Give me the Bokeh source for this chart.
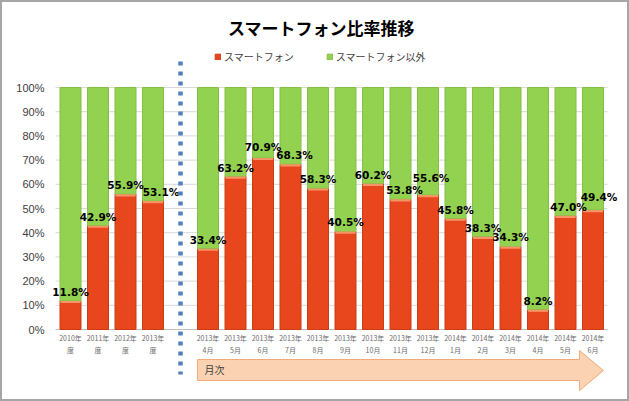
from bokeh.plotting import figure
from bokeh.models import Range1d, ColumnDataSource, Legend, LegendItem
from bokeh.core.properties import value
from bokeh.embed import file_html
from bokeh.resources import INLINE

# ---------------- data ----------------
title_text = "スマートフォン比率推移"
series_names = ["スマートフォン", "スマートフォン以外"]
year_labels = ["2010年\n度", "2011年\n度", "2012年\n度", "2013年\n度"]
year_values = [11.8, 42.9, 55.9, 53.1]
month_labels = ["2013年\n4月", "2013年\n5月", "2013年\n6月", "2013年\n7月", "2013年\n8月",
                "2013年\n9月", "2013年\n10月", "2013年\n11月", "2013年\n12月", "2014年\n1月",
                "2014年\n2月", "2014年\n3月", "2014年\n4月", "2014年\n5月", "2014年\n6月"]
month_values = [33.4, 63.2, 70.9, 68.3, 58.3, 40.5, 60.2, 53.8, 55.6, 45.8, 38.3, 34.3, 8.2, 47.0, 49.4]
y_ticks = [0, 10, 20, 30, 40, 50, 60, 70, 80, 90, 100]
arrow_label = "月次"
# label nudges (px) where the original chart shifted labels to avoid overlap
label_nudge = {3: 8, 7: 4, 11: 4, 12: 3, 17: 3, 18: 6}
label_lift = {6: 2, 12: 8, 18: 4}

# ---------------- layout helpers ----------------
W, H = 629, 401
X0, DX = 70.0, 27.5        # pixel centre of first slot, slot pitch
Y0, DY = 329.0, 2.42       # pixel of 0 %, pixels per %

def X(px):
    return (px - X0) / DX

def Y(py):
    return (Y0 - py) / DY

# slots: 4 yearly bars, one empty separator slot, then monthly bars
year_slots = list(range(len(year_labels)))
sep_slot = len(year_labels)
month_slots = [sep_slot + 1 + i for i in range(len(month_labels))]
slots = year_slots + month_slots
labels = year_labels + month_labels
values = year_values + month_values
pct_text = [f"{v:.1f}%" for v in values]
nudge = [label_nudge.get(i, 0) for i in range(len(values))]
lift = [-3 - label_lift.get(i, 0) for i in range(len(values))]

src = ColumnDataSource(dict(
    x=slots, v=values, rest=[100] * len(values), lab=labels, pct=pct_text,
    hl=[v - 0.9 for v in values], dx=nudge, dy=lift,
))

p = figure(width=W, height=H, output_backend="svg", toolbar_location=None,
           x_range=Range1d(X(0), X(W)), y_range=Range1d(Y(H), Y(0)),
           min_border=0, min_border_left=0, min_border_right=0,
           min_border_top=0, min_border_bottom=0)
p.xaxis.visible = False
p.yaxis.visible = False
p.grid.visible = False
p.background_fill_color = "white"
p.border_fill_color = "white"
p.outline_line_color = "#a6a6a6"
p.outline_line_width = 3

# gridlines + y tick labels
gx0, gx1 = X(55), X(607)
p.segment(x0=[gx0] * len(y_ticks), x1=[gx1] * len(y_ticks), y0=y_ticks, y1=y_ticks,
          line_color=["#bfbfbf"] + ["#d9d9d9"] * (len(y_ticks) - 1), line_width=1)
p.text(x=[X(44)] * len(y_ticks), y=y_ticks, text=[f"{t}%" for t in y_ticks],
       text_align="right", text_baseline="middle", text_font=value("Liberation Sans"),
       text_font_size="11px", text_color="#404040")

# bars
bw = 21 / DX
r_red = p.vbar(x="x", top="v", bottom=0, width=bw, source=src,
               fill_color="#e8461c", line_color="#c93d15", line_width=1)
r_green = p.vbar(x="x", bottom="v", top="rest", width=bw, source=src,
                 fill_color="#93d150", line_color="#84c044", line_width=1)
p.vbar(x="x", bottom="hl", top="v", width=bw * 0.96, source=src,
       fill_color="#f59466", line_color=None)

# value labels
p.text(x="x", y="v", text="pct", source=src, x_offset="dx", y_offset="dy",
       text_align="center", text_baseline="bottom",
       text_font=value("DejaVu Sans"), text_font_style="bold",
       text_font_size="10.5px", text_color="black")

# category labels
p.text(x="x", y=Y(332), text="lab", source=src, text_align="center", text_baseline="top",
       text_font=value("Noto Sans CJK JP"), text_font_size="7px", text_color="#6b6b6b",
       text_line_height=1.25)

# dotted separator
p.segment(x0=[sep_slot], x1=[sep_slot], y0=[Y(61)], y1=[Y(374)],
          line_color="#4f81bd", line_width=4.5, line_dash="4 6")

# arrow
ax = [197, 579, 579, 603, 579, 579, 197]
ay = [359, 359, 350, 370, 390, 380, 380]
p.patch(x=[X(a) for a in ax], y=[Y(b) for b in ay], fill_color="#fbd3b2",
        line_color="#f2aa78", line_width=1)
p.text(x=[X(204)], y=[Y(369)], text=[arrow_label], text_align="left",
       text_baseline="middle", text_font=value("Noto Sans CJK JP"),
       text_font_size="10px", text_color="#404040")

# title
p.text(x=[X(321)], y=[Y(27)], text=[title_text], text_align="center",
       text_baseline="middle", text_font=value("Noto Sans CJK JP"),
       text_font_style="bold", text_font_size="17px", text_color="black")

# legend
legend = Legend(items=[LegendItem(label=series_names[0], renderers=[r_red]),
                       LegendItem(label=series_names[1], renderers=[r_green])],
                orientation="horizontal", location=(214, 401 - 64),
                padding=0, margin=0, spacing=32, label_standoff=3,
                glyph_width=7, glyph_height=7, label_height=10,
                label_text_font="Noto Sans CJK JP", label_text_font_size="10px",
                label_text_color="#404040", background_fill_alpha=0,
                border_line_alpha=0)
p.add_layout(legend, "center")

open("out.html", "w").write(file_html(p, INLINE))
